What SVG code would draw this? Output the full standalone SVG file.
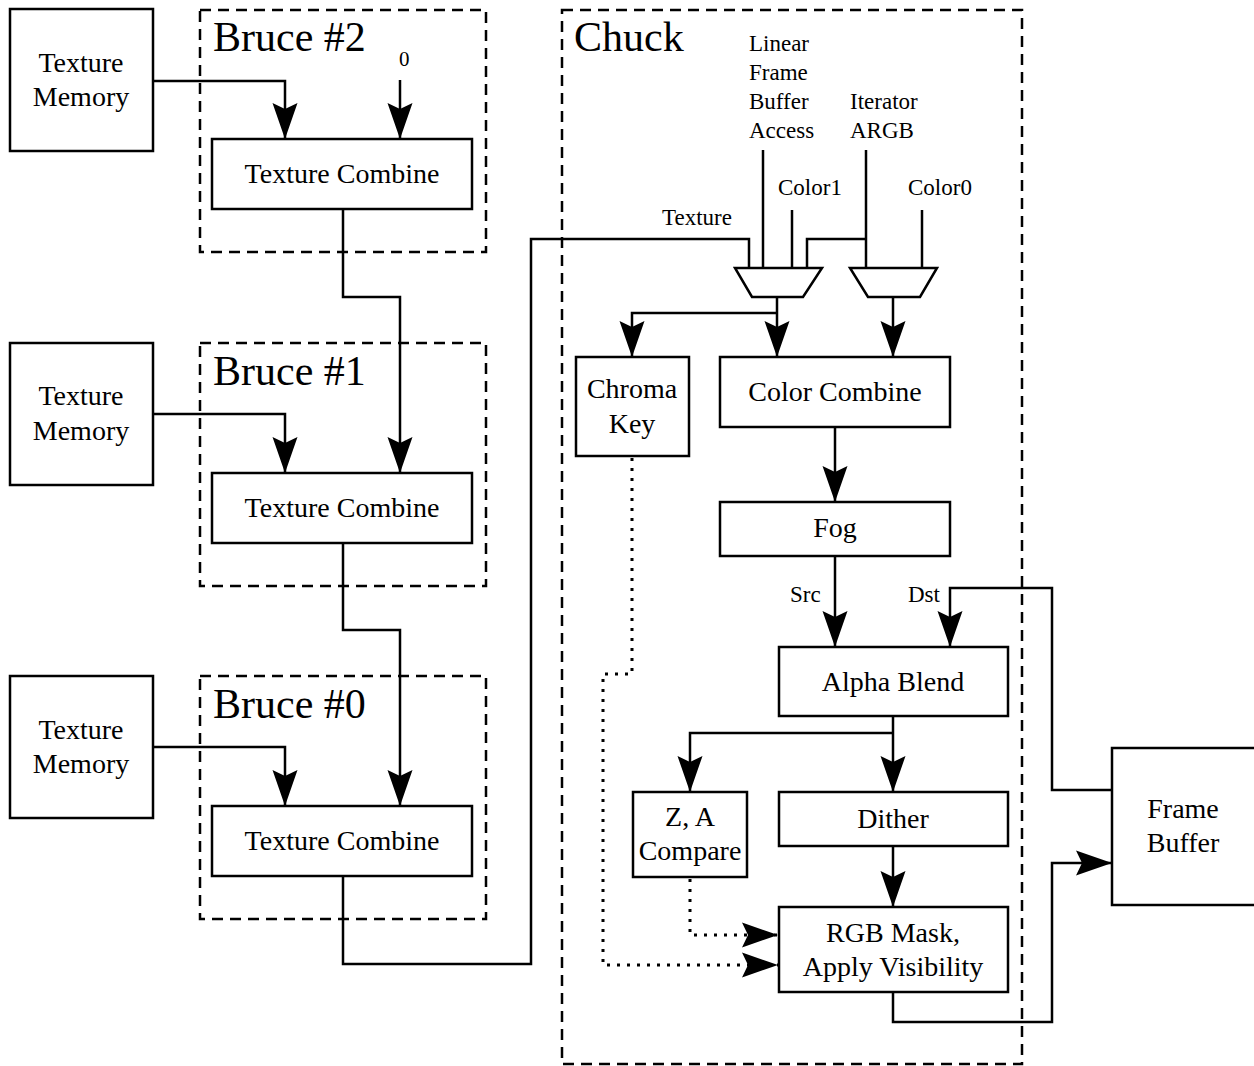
<svg xmlns="http://www.w3.org/2000/svg" width="1254" height="1066" viewBox="0 0 1254 1066">
<style>
.box{fill:#fff;stroke:#000;stroke-width:2.5}
.grp{fill:none;stroke:#000;stroke-width:2.5;stroke-dasharray:11 7}
.ln{fill:none;stroke:#000;stroke-width:2.5}
.arr{fill:none;stroke:#000;stroke-width:2.5;marker-end:url(#ah)}
.dotarr{fill:none;stroke:#000;stroke-width:3;stroke-dasharray:3 7;marker-end:url(#ah)}
text{font-family:"Liberation Serif","Times New Roman",serif;fill:#000}
.t{font-size:28px;text-anchor:middle}
.big{font-size:42px}
.s{font-size:23px}
</style>
<defs>
<marker id="ah" markerUnits="userSpaceOnUse" markerWidth="40" markerHeight="30" viewBox="-36 -15 40 30" refX="0" refY="0" orient="auto">
<path d="M0,0 L-36,-12.5 L-30,0 L-36,12.5 Z" fill="#000"/>
</marker>
</defs>
<rect width="1254" height="1066" fill="#fff"/>

<g id="groups">
<rect id="bruce2" class="grp" x="200" y="10" width="286" height="242"/>
<rect id="bruce1" class="grp" x="200" y="343" width="286" height="243"/>
<rect id="bruce0" class="grp" x="200" y="676" width="286" height="243"/>
<rect id="chuck" class="grp" x="562" y="10" width="460" height="1054"/>
<text class="big" x="213" y="51">Bruce #2</text>
<text class="big" x="213" y="385">Bruce #1</text>
<text class="big" x="213" y="718">Bruce #0</text>
<text class="big" x="574" y="51">Chuck</text>
</g>

<g id="connectors">
<path class="arr" d="M153,81 H285 V139"/>
<path class="arr" d="M400,80 V139"/>
<path class="arr" d="M343,209 V297 H400 V473"/>
<path class="arr" d="M153,414 H285 V473"/>
<path class="arr" d="M343,543 V630 H400 V806"/>
<path class="arr" d="M153,747 H285 V806"/>
<path class="ln" d="M343,876 V964 H531 V239 H749 V268"/>
<path class="ln" d="M763,150 V268"/>
<path class="ln" d="M792,210 V268"/>
<path class="ln" d="M807,268 V239 H866"/>
<path class="ln" d="M866,150 V268"/>
<path class="ln" d="M922,210 V268"/>
<path class="arr" d="M777,297 V357"/>
<path class="arr" d="M777,313 H632 V357"/>
<path class="arr" d="M893,297 V357"/>
<path class="arr" d="M835,427 V502"/>
<path class="arr" d="M835,556 V647"/>
<path class="arr" d="M1112,790 H1052 V588 H950 V647"/>
<path class="arr" d="M893,716 V792"/>
<path class="arr" d="M893,733 H690 V792"/>
<path class="arr" d="M893,846 V907"/>
<path class="arr" d="M893,992 V1022 H1052 V863 H1112"/>
<path class="dotarr" d="M632,458 V674 H603 V965 H778"/>
<path class="dotarr" d="M690,879 V935 H778"/>
</g>

<g id="mux1"><path class="box" d="M735,268 H822 L803,297 H752 Z"/></g>
<g id="mux2"><path class="box" d="M850,268 H937 L920,297 H868 Z"/></g>

<g id="labels">
<text class="s" x="399" y="66" style="font-size:21px">0</text>
<text class="s" x="749" y="51">Linear</text>
<text class="s" x="749" y="80">Frame</text>
<text class="s" x="749" y="109">Buffer</text>
<text class="s" x="749" y="138">Access</text>
<text class="s" x="850" y="109">Iterator</text>
<text class="s" x="850" y="138">ARGB</text>
<text class="s" x="778" y="195">Color1</text>
<text class="s" x="908" y="195">Color0</text>
<text class="s" x="662" y="225">Texture</text>
<text class="s" x="790" y="602">Src</text>
<text class="s" x="908" y="602">Dst</text>
</g>

<g id="texmem2"><rect class="box" x="10" y="9" width="143" height="142"/><text class="t" x="81" y="72">Texture</text><text class="t" x="81" y="106">Memory</text></g>
<g id="texmem1"><rect class="box" x="10" y="343" width="143" height="142"/><text class="t" x="81" y="405">Texture</text><text class="t" x="81" y="440">Memory</text></g>
<g id="texmem0"><rect class="box" x="10" y="676" width="143" height="142"/><text class="t" x="81" y="739">Texture</text><text class="t" x="81" y="773">Memory</text></g>

<g id="tc2"><rect class="box" x="212" y="139" width="260" height="70"/><text class="t" x="342" y="183">Texture Combine</text></g>
<g id="tc1"><rect class="box" x="212" y="473" width="260" height="70"/><text class="t" x="342" y="517">Texture Combine</text></g>
<g id="tc0"><rect class="box" x="212" y="806" width="260" height="70"/><text class="t" x="342" y="850">Texture Combine</text></g>

<g id="chroma"><rect class="box" x="576" y="357" width="113" height="99"/><text class="t" x="632" y="398">Chroma</text><text class="t" x="632" y="433">Key</text></g>
<g id="colorcombine"><rect class="box" x="720" y="357" width="230" height="70"/><text class="t" x="835" y="401">Color Combine</text></g>
<g id="fog"><rect class="box" x="720" y="502" width="230" height="54"/><text class="t" x="835" y="537">Fog</text></g>
<g id="alphablend"><rect class="box" x="779" y="647" width="229" height="69"/><text class="t" x="893" y="691">Alpha Blend</text></g>
<g id="zacompare"><rect class="box" x="633" y="792" width="114" height="85"/><text class="t" x="690" y="826">Z, A</text><text class="t" x="690" y="860">Compare</text></g>
<g id="dither"><rect class="box" x="779" y="792" width="229" height="54"/><text class="t" x="893" y="828">Dither</text></g>
<g id="rgbmask"><rect class="box" x="779" y="907" width="229" height="85"/><text class="t" x="893" y="942">RGB Mask,</text><text class="t" x="893" y="976">Apply Visibility</text></g>
<g id="framebuffer"><rect class="box" x="1112" y="748" width="150" height="157"/><text class="t" x="1183" y="818">Frame</text><text class="t" x="1183" y="852">Buffer</text></g>
</svg>
